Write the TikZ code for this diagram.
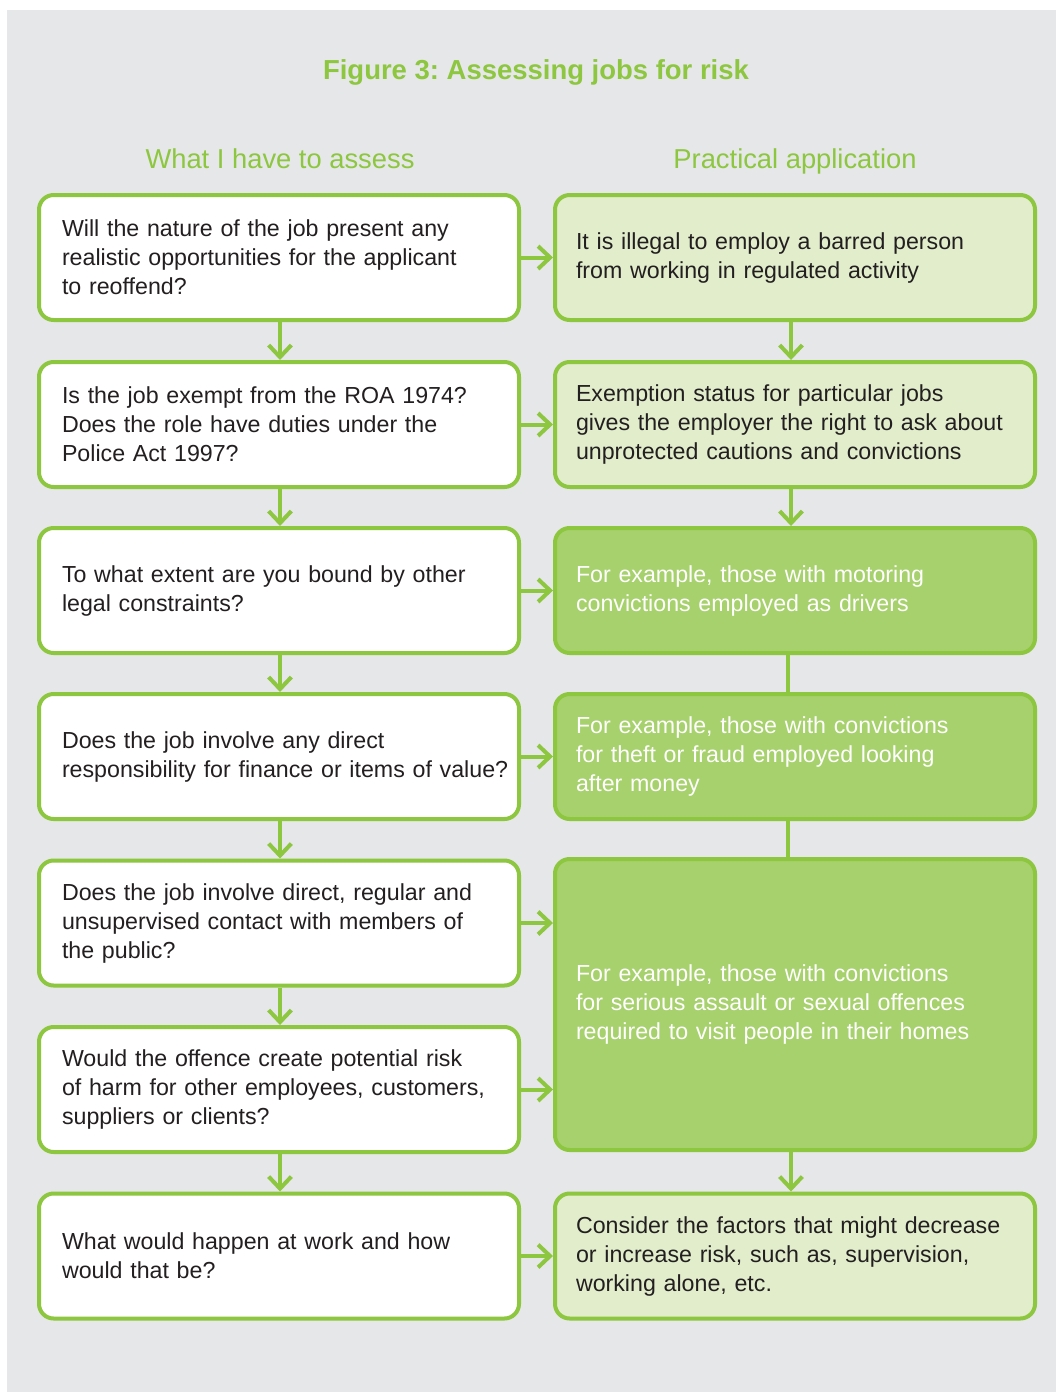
\documentclass[tikz,border=0pt]{standalone}
\usepackage{fontspec}
\setmainfont{Liberation Sans}
\usetikzlibrary{arrows.meta}
\definecolor{gstroke}{HTML}{8DC63F}
\definecolor{glight}{HTML}{E1EDCB}
\definecolor{gdark}{HTML}{A7D16C}
\definecolor{panel}{HTML}{E6E7E8}
\definecolor{txt}{HTML}{231F20}
\frenchspacing
\hfuzz=20pt
\begin{document}
\begin{tikzpicture}[x=0.75pt,y=-0.75pt,
  box/.style={draw=gstroke, line width=3pt, rounded corners=11pt,
    minimum width=360pt, minimum height=93.75pt, text width=325.5pt,
    inner xsep=17.25pt, align=left, text=txt,
    font=\fontsize{17.4}{21.75}\selectfont},
  qbox/.style={box, fill=white},
  abox/.style={box, fill=glight, inner xsep=15.75pt, text width=328.5pt},
  dbox/.style={box, fill=gdark, text=white, inner xsep=15.75pt, text width=328.5pt},
  arr/.style={draw=gstroke, line width=3pt, -{Straight Barb[length=9pt,width=17pt,line width=3pt]}},
  link/.style={draw=gstroke, line width=3pt},
  head/.style={text=gstroke, anchor=base, font=\fontsize{20.5}{24}\selectfont}
]
\useasboundingbox (0,0) rectangle (1056,1392);
\fill[panel] (7,10) rectangle (1056,1392);

\node[text=gstroke, anchor=base, font=\fontsize{20.6}{26}\selectfont\bfseries] (title) at (536,79) {Figure 3: Assessing jobs for risk};
\node[head] (hl) at (280,168) {What I have to assess};
\node[head] (hr) at (795,168) {Practical application};

% left column
\node[qbox] (q1) at (279,257.5) {Will the nature of the job present any\\realistic opportunities for the applicant\\to reoffend?};
\node[qbox] (q2) at (279,424.5) {Is the job exempt from the ROA 1974?\\Does the role have duties under the\\Police Act 1997?};
\node[qbox] (q3) at (279,590.5) {To what extent are you bound by other\\legal constraints?};
\node[qbox] (q4) at (279,756.5) {Does the job involve any direct\\\mbox{responsibility for finance or items of value?}};
\node[qbox] (q5) at (279,923) {Does the job involve direct, regular and\\unsupervised contact with members of\\the public?};
\node[qbox] (q6) at (279,1089.5) {Would the offence create potential risk\\of harm for other employees, customers,\\suppliers or clients?};
\node[qbox] (q7) at (279,1256) {What would happen at work and how\\would that be?};

% right column
\node[abox] (a1) at (795,257.5) {It is illegal to employ a barred person\\from working in regulated activity};
\node[abox] (a2) at (795,424.5) {Exemption status for particular jobs\\gives the employer the right to ask about\\unprotected cautions and convictions};
\node[dbox] (a3) at (795,590.5) {For example, those with motoring\\convictions employed as drivers};
\node[dbox] (a4) at (795,756.5) {For example, those with convictions\\for theft or fraud employed looking\\after money};
\node[dbox, minimum height=218.25pt] (a5) at (795,1004.5) {For example, those with convictions\\for serious assault or sexual offences\\required to visit people in their homes};
\node[abox] (a7) at (795,1256) {Consider the factors that might decrease\\or increase risk, such as, supervision,\\working alone, etc.};

% vertical arrows left
\foreach \a/\b in {q1/q2,q2/q3,q3/q4,q4/q5,q5/q6,q6/q7}
  \draw[arr] ([xshift=0.75pt]\a.south) -- ([xshift=0.75pt]\b.north);

% vertical connectors right
\draw[arr] ([xshift=-3pt]a1.south) -- ([xshift=-3pt]a2.north);
\draw[arr] ([xshift=-3pt]a2.south) -- ([xshift=-3pt]a3.north);
\draw[link] ([xshift=-5.25pt]a3.south) -- ([xshift=-5.25pt]a4.north);
\draw[link] ([xshift=-5.25pt]a4.south) -- ([xshift=-5.25pt]a5.north);
\draw[arr] ([xshift=-3pt]a5.south) -- ([xshift=-3pt]a7.north);

% horizontal arrows
\draw[arr] (q1.east) -- (a1.west);
\draw[arr] (q2.east) -- (a2.west);
\draw[arr] (q3.east) -- (a3.west);
\draw[arr] (q4.east) -- (a4.west);
\draw[arr] (q5.east) -- (q5.east -| a5.west);
\draw[arr] (q6.east) -- (q6.east -| a5.west);
\draw[arr] (q7.east) -- (a7.west);
\end{tikzpicture}
\end{document}
